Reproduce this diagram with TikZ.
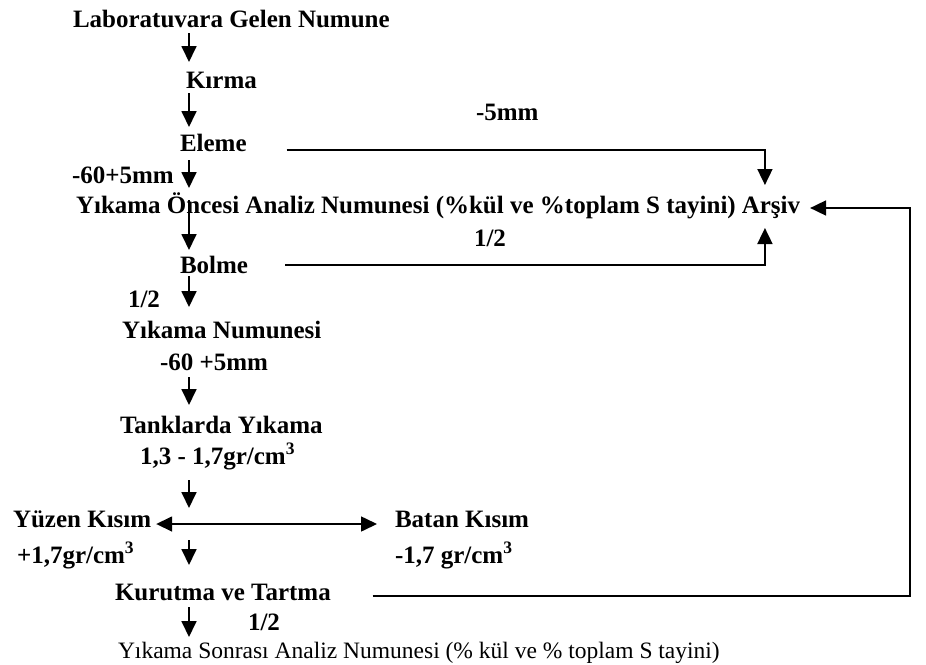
\documentclass[tikz,border=0pt]{standalone}
\usepackage{fontspec}
\setmainfont{Liberation Serif}
\usetikzlibrary{arrows.meta}
\begin{document}
\begin{tikzpicture}[x=1pt,y=-1pt,
  lbl/.style={anchor=base west, inner sep=0pt, outer sep=0pt,
    font=\fontsize{25}{30}\selectfont\bfseries},
  plain/.style={anchor=base west, inner sep=0pt, outer sep=0pt,
    font=\fontsize{23.5}{28}\selectfont},
  flow/.style={line width=1.8pt, -{Triangle[width=15pt,length=16pt]}},
  both/.style={line width=1.6pt, {Triangle[width=15pt,length=16pt]}-{Triangle[width=15pt,length=16pt]}}]
\useasboundingbox[fill=white] (0,0) rectangle (926,664);

% main column of process steps
\node[lbl] (lab)    at (73,27)  {Laboratuvara Gelen Numune};
\node[lbl] (kirma)  at (186,88) {Kırma};
\node[lbl] (eleme)  at (180,151) {Eleme};
\node[lbl] (mm5)    at (476,120) {-5mm};
\node[lbl] (size1)  at (72,183) {-60+5mm};
\node[lbl] (yon)    at (76,213) {Yıkama Öncesi Analiz Numunesi (\%kül ve \%toplam S tayini)};
\node[lbl] (arsiv)  at ([xshift=6pt]yon.base east) {Arşiv};
\node[lbl] (halfa)  at (474,246) {1/2};
\node[lbl] (bolme)  at (180,273) {Bolme};
\node[lbl] (halfb)  at (128,307) {1/2};
\node[lbl] (ynum)   at (122,338) {Yıkama Numunesi};
\node[lbl] (size2)  at (160,370) {-60 +5mm};
\node[lbl] (tank)   at (120,433) {Tanklarda Yıkama};
\node[lbl] (dens)   at (140,464) {1,3 - 1,7gr/cm\textsuperscript{3}};
\node[lbl] (yuzen)  at (13,527)  {Yüzen Kısım};
\node[lbl] (yuzend) at (17,563)  {+1,7gr/cm\textsuperscript{3}};
\node[lbl] (batan)  at (395,527) {Batan Kısım};
\node[lbl] (batand) at (395,563) {-1,7 gr/cm\textsuperscript{3}};
\node[lbl] (kurut)  at (115,600) {Kurutma ve Tartma};
\node[lbl] (halfc)  at (248,630) {1/2};
\node[plain] (son)  at (118,658) {Yıkama Sonrası Analiz Numunesi (\% kül ve \% toplam S tayini)};

\coordinate (trunk) at (189,0);
\coordinate (rail) at (910,208);

% downward flow along the main column
\draw[flow] ([yshift=-6pt]lab.base -| trunk)   -- ([yshift=26pt]kirma.base -| trunk);
\draw[flow] ([yshift=-5pt]kirma.base -| trunk) -- ([yshift=24pt]eleme.base -| trunk);
\draw[flow] ([yshift=-9pt]eleme.base -| trunk) -- ([yshift=25pt]yon.base -| trunk);
\draw[flow] ([yshift=13pt]yon.base -| trunk)   -- ([yshift=23pt]bolme.base -| trunk);
\draw[flow] ([yshift=-3pt]bolme.base -| trunk) -- ([yshift=31pt]ynum.base -| trunk);
\draw[flow] ([yshift=-7pt]size2.base -| trunk) -- ([yshift=28pt]tank.base -| trunk);
\draw[flow] ([yshift=-16pt]dens.base -| trunk) -- ([yshift=19pt]yuzen.base -| trunk);
\draw[flow] ([yshift=-13pt]yuzen.base -| trunk) -- ([yshift=35pt]kurut.base -| trunk);
\draw[flow] ([yshift=-7pt]kurut.base -| trunk) -- ([yshift=21pt]son.base -| trunk);

% split into floating and sinking parts
\draw[both] ([xshift=5pt,yshift=3pt]yuzen.base east) -- ([xshift=-18pt,yshift=3pt]batan.base west);

% side streams to the archive
\draw[flow] ([xshift=40pt,yshift=1pt]eleme.base east) -| ([xshift=-6pt,yshift=28pt]arsiv.base);
\draw[flow] ([xshift=37pt,yshift=8pt]bolme.base east) -| ([xshift=-6pt,yshift=-15pt]arsiv.base);
\draw[flow] ([xshift=42pt,yshift=4pt]kurut.base east) -| (rail) -- ([xshift=10pt,yshift=5pt]arsiv.base east);
\end{tikzpicture}
\end{document}
